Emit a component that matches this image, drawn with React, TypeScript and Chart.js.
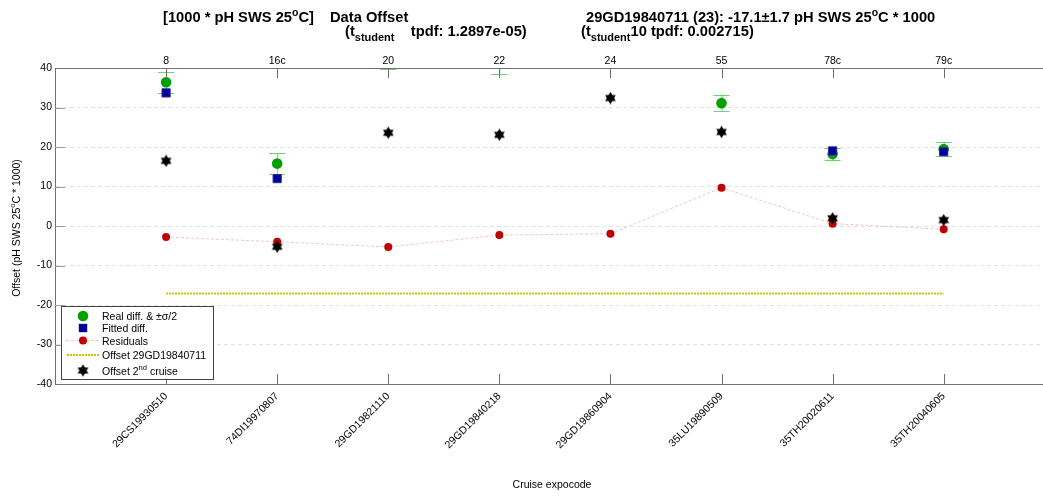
import React, { useEffect, useRef } from 'react';
import { Chart, registerables } from 'chart.js';

Chart.register(...registerables);

// ---- data ----
const stations = ['8', '16c', '20', '22', '24', '55', '78c', '79c'];
const expocodes = [
  '29CS19930510', '74DI19970807', '29GD19821110', '29GD19840218',
  '29GD19860904', '35LU19890509', '35TH20020611', '35TH20040605',
];
const realDiff = [36.4, 15.8, 47.5, 44.5, 47.0, 31.1, 18.2, 19.45];
const realHalfSigma = [2.65, 2.7, 7.7, 5.9, 3.0, 2.05, 1.5, 1.75];
const fittedDiff = [33.7, 12.0, 42.2, 42.2, 45.0, 41.6, 19.0, 18.8];
const residuals = [-2.8, -4.0, -5.3, -2.3, -1.95, 9.7, 0.6, -0.85];
const secondCruiseOffset = [16.5, -5.25, 23.6, 23.1, 32.4, 23.8, 1.95, 1.5];
const offsetValue = -17.1;
const yTicks = [-40, -30, -20, -10, 0, 10, 20, 30, 40];
const xMin = 0;
const xMax = 8.885;

const FONT = "'Liberation Sans', Arial, Helvetica, sans-serif";

type Seg = { t: string; k?: 'sup' | 'sub'; s?: number };

function segWidth(ctx: CanvasRenderingContext2D, segs: Seg[], size: number, bold: boolean) {
  let w = 0;
  for (const s of segs) {
    const fs = s.s ?? (s.k ? size * 0.72 : size);
    ctx.font = `${bold ? 'bold ' : ''}${fs}px ${FONT}`;
    w += ctx.measureText(s.t).width;
  }
  return w;
}

function drawRich(ctx: CanvasRenderingContext2D, segs: Seg[], x: number, y: number, size: number, bold: boolean) {
  let cx = x;
  ctx.textAlign = 'left';
  ctx.textBaseline = 'alphabetic';
  for (const s of segs) {
    const fs = s.s ?? (s.k ? size * 0.72 : size);
    ctx.font = `${bold ? 'bold ' : ''}${fs}px ${FONT}`;
    const dy = s.k === 'sup' ? -size * 0.42 : s.k === 'sub' ? size * 0.4 : 0;
    ctx.fillText(s.t, cx, y + dy);
    cx += ctx.measureText(s.t).width;
  }
}

function makeStar(size: number, color: string) {
  const c = document.createElement('canvas');
  c.width = size;
  c.height = size;
  const g = c.getContext('2d')!;
  const cx = size / 2;
  const cy = size / 2;
  const r = size / 2 - 0.3;
  g.fillStyle = color;
  const tri = (start: number) => {
    g.beginPath();
    for (let k = 0; k < 3; k++) {
      const a = ((start + k * 120) * Math.PI) / 180;
      const px = cx + r * Math.cos(a);
      const py = cy + r * Math.sin(a);
      if (k === 0) g.moveTo(px, py);
      else g.lineTo(px, py);
    }
    g.closePath();
    g.fill();
  };
  tri(-90);
  tri(90);
  return c;
}

export default function App() {
  const ref = useRef<HTMLCanvasElement | null>(null);

  useEffect(() => {
    const canvas = ref.current;
    if (!canvas) return;
    const star = makeStar(13, '#000000');

    const GREEN = '#00a000';
    const BLUE = '#000099';
    const RED = '#c00000';
    const PINK = 'rgba(236,150,150,0.55)';
    const YELLOW = '#c8c800';
    const ERR = 'rgba(70,190,70,0.75)';

    const pts = (arr: number[]) => arr.map((v, i) => ({ x: i + 1, y: v }));

    const decor = {
      id: 'decor',
      beforeDatasetsDraw(chart: any) {
        const { ctx, chartArea } = chart;
        const xs = chart.scales.x;
        const ys = chart.scales.y;
        ctx.save();
        ctx.beginPath();
        ctx.rect(chartArea.left, chartArea.top, chartArea.right - chartArea.left, chartArea.bottom - chartArea.top);
        ctx.clip();
        ctx.strokeStyle = ERR;
        ctx.lineWidth = 1;
        realDiff.forEach((v, i) => {
          const x = xs.getPixelForValue(i + 1);
          const y1 = ys.getPixelForValue(v + realHalfSigma[i]);
          const y2 = ys.getPixelForValue(v - realHalfSigma[i]);
          ctx.beginPath();
          ctx.moveTo(x + 0.5, y1);
          ctx.lineTo(x + 0.5, y2);
          ctx.moveTo(x - 8, Math.round(y1) + 0.5);
          ctx.lineTo(x + 8, Math.round(y1) + 0.5);
          ctx.moveTo(x - 8, Math.round(y2) + 0.5);
          ctx.lineTo(x + 8, Math.round(y2) + 0.5);
          ctx.stroke();
        });
        ctx.restore();
      },
      afterDraw(chart: any) {
        const { ctx, chartArea } = chart;
        const xs = chart.scales.x;
        const ys = chart.scales.y;
        ctx.save();
        ctx.lineWidth = 1;
        ctx.strokeStyle = '#6e6e6e';
        stations.forEach((_, i) => {
          const x = Math.round(xs.getPixelForValue(i + 1)) + 0.5;
          ctx.beginPath();
          ctx.moveTo(x, chartArea.top);
          ctx.lineTo(x, chartArea.top + 10);
          ctx.moveTo(x, chartArea.bottom);
          ctx.lineTo(x, chartArea.bottom - 10);
          ctx.stroke();
        });
        ctx.strokeStyle = '#9a9a9a';
        yTicks.slice(1, -1).forEach((v) => {
          const y = Math.round(ys.getPixelForValue(v)) + 0.5;
          ctx.beginPath();
          ctx.moveTo(chartArea.left, y);
          ctx.lineTo(chartArea.left + 10, y);
          ctx.stroke();
        });

        // legend
        const lx = 61.5, ly = 306.5, lw = 152, lh = 73;
        ctx.fillStyle = '#ffffff';
        ctx.fillRect(lx, ly, lw, lh);
        ctx.strokeStyle = '#444444';
        ctx.lineWidth = 1;
        ctx.strokeRect(lx, ly, lw, lh);
        const mx = 83;
        const tx = 102;
        const rows = [316, 328, 340.5, 355, 370.5];
        ctx.fillStyle = GREEN;
        ctx.beginPath();
        ctx.arc(mx, rows[0], 5.3, 0, Math.PI * 2);
        ctx.fill();
        ctx.fillStyle = BLUE;
        ctx.fillRect(mx - 4.2, rows[1] - 4.2, 8.4, 8.4);
        ctx.strokeStyle = PINK;
        ctx.setLineDash([3, 2]);
        ctx.beginPath();
        ctx.moveTo(66, rows[2]);
        ctx.lineTo(100, rows[2]);
        ctx.stroke();
        ctx.setLineDash([]);
        ctx.fillStyle = RED;
        ctx.beginPath();
        ctx.arc(mx, rows[2], 4, 0, Math.PI * 2);
        ctx.fill();
        ctx.strokeStyle = YELLOW;
        ctx.lineWidth = 2;
        ctx.setLineDash([2, 1]);
        ctx.beginPath();
        ctx.moveTo(67, rows[3]);
        ctx.lineTo(99, rows[3]);
        ctx.stroke();
        ctx.setLineDash([]);
        ctx.lineWidth = 1;
        ctx.drawImage(star, mx - 6.5, rows[4] - 6.5);

        ctx.fillStyle = '#000000';
        const ls = 10.5;
        drawRich(ctx, [{ t: 'Real diff. & \u00b1\u03c3/2' }], tx, rows[0] + 4, ls, false);
        drawRich(ctx, [{ t: 'Fitted diff.' }], tx, rows[1] + 4, ls, false);
        drawRich(ctx, [{ t: 'Residuals' }], tx, rows[2] + 4, ls, false);
        drawRich(ctx, [{ t: 'Offset 29GD19840711' }], tx, rows[3] + 4, ls, false);
        drawRich(ctx, [{ t: 'Offset 2' }, { t: 'nd', k: 'sup' }, { t: ' cruise' }], tx, rows[4] + 4, ls, false);

        // titles
        const ts = 14.7;
        drawRich(ctx, [{ t: '[1000 * pH SWS 25' }, { t: 'o', k: 'sup', s: 10.5 }, { t: 'C]' }], 163, 22, ts, true);
        drawRich(ctx, [{ t: 'Data Offset' }], 330, 22, ts, true);
        drawRich(ctx, [{ t: '(t' }, { t: 'student', k: 'sub', s: 11 }, { t: '    tpdf: 1.2897e-05)' }], 345, 35.5, ts, true);
        drawRich(ctx, [
          { t: '29GD19840711 (23): -17.1\u00b11.7 pH SWS 25' },
          { t: 'o', k: 'sup', s: 10.5 },
          { t: 'C * 1000' },
        ], 586, 22, ts, true);
        drawRich(ctx, [{ t: '(t' }, { t: 'student', k: 'sub', s: 11 }, { t: '10 tpdf: 0.002715)' }], 581, 35.5, ts, true);

        // axis titles
        const as = 10.5;
        const ySegs: Seg[] = [{ t: 'Offset (pH SWS 25' }, { t: 'o', k: 'sup', s: 7.5 }, { t: 'C * 1000)' }];
        const yw = segWidth(ctx, ySegs, as, false);
        ctx.save();
        ctx.translate(19.5, 228);
        ctx.rotate(-Math.PI / 2);
        drawRich(ctx, ySegs, -yw / 2, 0, as, false);
        ctx.restore();
        const xSegs: Seg[] = [{ t: 'Cruise expocode' }];
        const xw = segWidth(ctx, xSegs, as, false);
        drawRich(ctx, xSegs, 552 - xw / 2, 488, as, false);
        ctx.restore();
      },
    };

    const noPad = (axis: any) => {
      axis.paddingLeft = 0;
      axis.paddingRight = 0;
    };

    const chart = new Chart(canvas, {
      type: 'scatter',
      data: {
        datasets: [
          {
            label: 'Offset 2nd cruise',
            data: pts(secondCruiseOffset),
            pointStyle: star as any,
            pointRadius: 6,
            order: 0,
            clip: 0,
          },
          {
            label: 'Offset 29GD19840711',
            data: [
              { x: 1, y: offsetValue },
              { x: stations.length, y: offsetValue },
            ],
            showLine: true,
            borderColor: YELLOW,
            borderWidth: 2,
            borderDash: [2, 1],
            pointRadius: 0,
            order: 1,
            clip: 0,
          },
          {
            label: 'Residuals',
            data: pts(residuals),
            showLine: true,
            borderColor: PINK,
            borderWidth: 1,
            borderDash: [3, 2],
            pointRadius: 4,
            pointBackgroundColor: RED,
            pointBorderColor: RED,
            pointBorderWidth: 0,
            order: 2,
            clip: 0,
          },
          {
            label: 'Fitted diff.',
            data: pts(fittedDiff),
            pointStyle: 'rect',
            pointRadius: 5.8,
            pointBackgroundColor: BLUE,
            pointBorderColor: '#2a2a9a',
            pointBorderWidth: 1,
            order: 3,
            clip: 0,
          },
          {
            label: 'Real diff. & \u00b1\u03c3/2',
            data: pts(realDiff),
            pointRadius: 5.3,
            pointBackgroundColor: GREEN,
            pointBorderColor: GREEN,
            pointBorderWidth: 0,
            order: 4,
            clip: 0,
          },
        ],
      },
      options: {
        responsive: false,
        animation: false,
        devicePixelRatio: 1,
        layout: { padding: 0 },
        plugins: {
          legend: { display: false },
          title: { display: false },
          tooltip: { enabled: false },
        },
        events: [],
        scales: {
          x: {
            type: 'linear',
            position: 'bottom',
            min: xMin,
            max: xMax,
            afterBuildTicks: (axis: any) => {
              axis.ticks = stations.map((_, i) => ({ value: i + 1 }));
            },
            afterFit: (axis: any) => {
              axis.height = 112;
              noPad(axis);
            },
            grid: { display: false, drawTicks: false },
            border: { display: true, color: '#707070', width: 1 },
            ticks: {
              autoSkip: false,
              minRotation: 45,
              maxRotation: 45,
              padding: 6,
              color: '#000000',
              font: { family: FONT, size: 10.5 },
              callback: (v: any) => expocodes[Math.round(Number(v)) - 1] ?? '',
            },
          },
          x2: {
            type: 'linear',
            position: 'top',
            min: xMin,
            max: xMax,
            afterBuildTicks: (axis: any) => {
              axis.ticks = stations.map((_, i) => ({ value: i + 1 }));
            },
            afterFit: (axis: any) => {
              axis.height = 68;
              noPad(axis);
            },
            grid: { display: false, drawTicks: false },
            border: { display: true, color: '#707070', width: 1 },
            ticks: {
              autoSkip: false,
              minRotation: 0,
              maxRotation: 0,
              padding: 1,
              color: '#000000',
              font: { family: FONT, size: 10.5 },
              callback: (v: any) => stations[Math.round(Number(v)) - 1] ?? '',
            },
          },
          y: {
            type: 'linear',
            position: 'left',
            min: -40,
            max: 40,
            afterBuildTicks: (axis: any) => {
              axis.ticks = yTicks.map((v) => ({ value: v }));
            },
            afterFit: (axis: any) => {
              axis.width = 55;
              axis.paddingTop = 0;
              axis.paddingBottom = 0;
            },
            grid: {
              drawTicks: false,
              lineWidth: 1,
              color: (c: any) =>
                c.tick && (c.tick.value === 40 || c.tick.value === -40) ? 'rgba(0,0,0,0)' : '#e2e2e2',
            },
            border: { display: true, color: '#707070', width: 1, dash: [4, 3] },
            ticks: {
              padding: 3,
              color: '#000000',
              font: { family: FONT, size: 10.5 },
              callback: (v: any) => String(v),
            },
          },
        },
      },
      plugins: [decor],
    } as any);

    return () => {
      chart.destroy();
    };
  }, []);

  return (
    <div
      style={{
        position: 'absolute',
        left: 0,
        top: 0,
        width: 1043,
        height: 496,
        overflow: 'hidden',
        background: '#ffffff',
      }}
    >
      <canvas ref={ref} width={1049} height={496} style={{ display: 'block' }} />
    </div>
  );
}
